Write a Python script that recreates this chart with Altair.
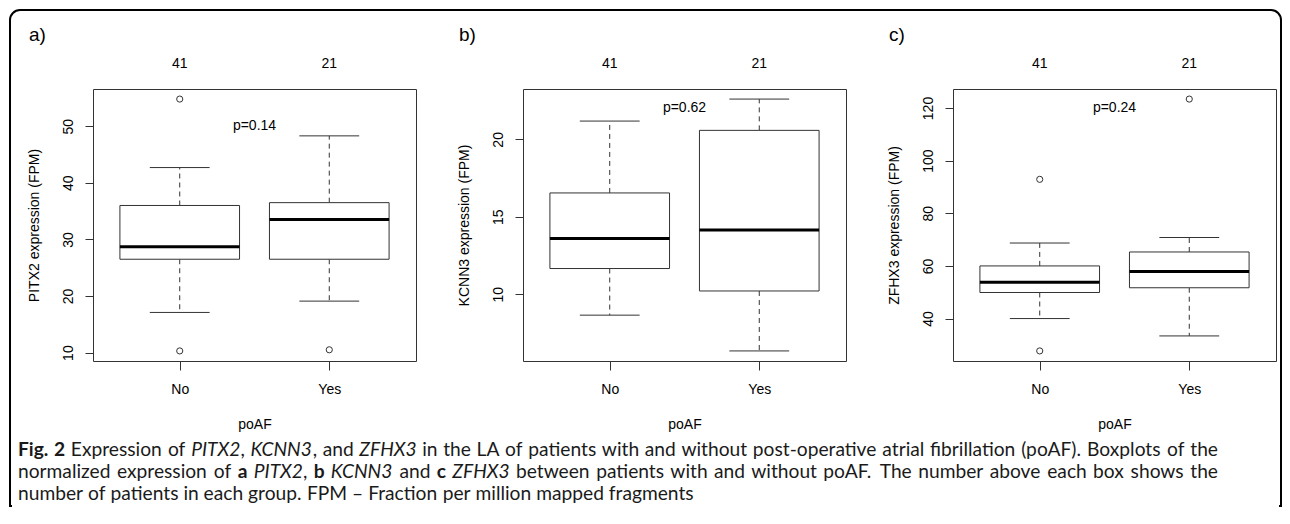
import glob
import os
import struct

import altair as alt
import pandas as pd

# ---------------- data ----------------
groups = ["No", "Yes"]
counts = ["41", "21"]
genes = ["PITX2", "KCNN3", "ZFHX3"]
panel_tags = ["a)", "b)", "c)"]
p_values = ["p=0.14", "p=0.62", "p=0.24"]
p_label_y = [50, 22, 120]
y_ticks = [[10, 20, 30, 40, 50], [10, 15, 20], [40, 60, 80, 100, 120]]

q1 = [[26.5, 26.5], [11.66, 10.21], [49.9, 51.7]]
median = [[28.7, 33.5], [13.6, 14.15], [53.8, 57.9]]
q3 = [[36.0, 36.5], [16.54, 20.58], [60.0, 65.3]]
whisker_low = [[17.1, 19.1], [8.65, 6.34], [40.0, 33.4]]
whisker_high = [[42.7, 48.3], [21.18, 22.6], [68.7, 70.8]]
outliers = [[[10.3, 54.8], [10.5]], [[], []], [[27.7, 92.9], [123.4]]]

caption_lines = [
    [("Fig. 2", "b"), (" Expression of ", "n"), ("PITX2", "i"), (", ", "n"),
     ("KCNN3", "i"), (", and ", "n"), ("ZFHX3", "i"),
     (" in the LA of patients with and without post-operative atrial fibrillation (poAF). Boxplots of the", "n")],
    [("normalized expression of ", "n"), ("a", "b"), (" ", "n"), ("PITX2", "i"), (", ", "n"),
     ("b", "b"), (" ", "n"), ("KCNN3", "i"), (" and ", "n"), ("c", "b"), (" ", "n"),
     ("ZFHX3", "i"),
     (" between patients with and without poAF. The number above each box shows the", "n")],
    [("number of patients in each group. FPM \u2013 Fraction per million mapped fragments", "n")],
]

FONT = "Liberation Sans"
LINE = "#333333"
W, H = 323, 272


# ---------------- font metrics (for caption layout) ----------------
def _read_font(path):
    try:
        with open(path, "rb") as fh:
            data = fh.read()
        num = struct.unpack(">H", data[4:6])[0]
        tabs = {}
        for i in range(num):
            tag, _, off, _ln = struct.unpack(">4sIII", data[12 + 16 * i:28 + 16 * i])
            tabs[tag.decode("latin-1")] = off
        if "fvar" in tabs:
            return None
        upm = struct.unpack(">H", data[tabs["head"] + 18:tabs["head"] + 20])[0]
        nhm = struct.unpack(">H", data[tabs["hhea"] + 34:tabs["hhea"] + 36])[0]
        hm = tabs["hmtx"]
        adv = [struct.unpack(">H", data[hm + 4 * i:hm + 4 * i + 2])[0] for i in range(nhm)]
        cm = tabs["cmap"]
        nsub = struct.unpack(">H", data[cm + 2:cm + 4])[0]
        sub = None
        for i in range(nsub):
            pid, eid, off = struct.unpack(">HHI", data[cm + 4 + 8 * i:cm + 12 + 8 * i])
            fmt = struct.unpack(">H", data[cm + off:cm + off + 2])[0]
            if fmt == 4 and ((pid == 3 and eid == 1) or pid == 0):
                sub = cm + off
                break
        if sub is None:
            return None
        segx2 = struct.unpack(">H", data[sub + 6:sub + 8])[0]
        seg = segx2 // 2
        ends = struct.unpack(">%dH" % seg, data[sub + 14:sub + 14 + segx2])
        starts = struct.unpack(">%dH" % seg, data[sub + 16 + segx2:sub + 16 + 2 * segx2])
        deltas = struct.unpack(">%dh" % seg, data[sub + 16 + 2 * segx2:sub + 16 + 3 * segx2])
        rbase = sub + 16 + 3 * segx2
        rofs = struct.unpack(">%dH" % seg, data[rbase:rbase + segx2])

        def glyph(c):
            for j in range(seg):
                if ends[j] >= c:
                    if starts[j] > c:
                        return 0
                    if rofs[j] == 0:
                        return (c + deltas[j]) & 0xFFFF
                    addr = rbase + 2 * j + rofs[j] + 2 * (c - starts[j])
                    g = struct.unpack(">H", data[addr:addr + 2])[0]
                    return (g + deltas[j]) & 0xFFFF if g else 0
            return 0

        def width(s):
            tot = 0
            for ch in s:
                g = glyph(ord(ch))
                tot += adv[g] if g < nhm else adv[-1]
            return tot / upm

        return width
    except Exception:
        return None


def _find_family():
    dirs = ["/usr/share/fonts", "/usr/local/share/fonts",
            os.path.expanduser("~/.fonts"), os.path.expanduser("~/.local/share/fonts")]
    files = {}
    for d in dirs:
        for ext in ("ttf", "otf", "TTF", "OTF"):
            for f in glob.glob(os.path.join(d, "**", "*." + ext), recursive=True):
                files.setdefault(os.path.splitext(os.path.basename(f))[0].lower(), f)
    candidates = [
        ("Lato", ["lato-regular", "lato-bold", "lato-italic"]),
        ("Open Sans", ["opensans-regular", "opensans-bold", "opensans-italic"]),
        ("Noto Sans", ["notosans-regular", "notosans-bold", "notosans-italic"]),
        ("Liberation Sans", ["liberationsans-regular", "liberationsans-bold", "liberationsans-italic"]),
    ]
    for fam, names in candidates:
        if all(n in files for n in names):
            fns = [_read_font(files[n]) for n in names]
            if all(fns):
                return fam, {"n": fns[0], "b": fns[1], "i": fns[2]}
    return "Open Sans", {"n": lambda s: 0.53 * len(s), "b": lambda s: 0.57 * len(s),
                         "i": lambda s: 0.5 * len(s)}


CAP_FONT, METRICS = _find_family()


def _tokenize(runs):
    words = [[]]
    for text, st in runs:
        for ch in text:
            if ch == " ":
                if words[-1]:
                    words.append([])
            else:
                w = words[-1]
                if w and w[-1][1] == st:
                    w[-1] = (w[-1][0] + ch, st)
                else:
                    w.append((ch, st))
    return [w for w in words if w]


def _word_em(word):
    return sum(METRICS[st](t) for t, st in word)


# caption geometry (pixels relative to the caption view origin)
CAP_LEFT = -75
CAP_RIGHT = 1125
CAP_LAST_WIDTH = 676
CAP_BASELINES = [16, 38, 60]

tok_lines = [_tokenize(r) for r in caption_lines]
space_em = METRICS["n"](" ")
last_em = sum(_word_em(w) for w in tok_lines[-1]) + space_em * (len(tok_lines[-1]) - 1)
CAP_SIZE = CAP_LAST_WIDTH / last_em

cap_rows = []
for li, words in enumerate(tok_lines):
    wids = [_word_em(w) * CAP_SIZE for w in words]
    if li < len(tok_lines) - 1 and len(words) > 1:
        gap = (CAP_RIGHT - CAP_LEFT - sum(wids)) / (len(words) - 1)
    else:
        gap = space_em * CAP_SIZE
    x = CAP_LEFT
    for w, wd in zip(words, wids):
        px = x
        for t, st in w:
            cap_rows.append({"x": px, "y": CAP_BASELINES[li], "t": t, "s": st})
            px += METRICS[st](t) * CAP_SIZE
        x += wd + gap
cap_df = pd.DataFrame(cap_rows)


# ---------------- panels ----------------
def make_panel(k):
    rows = []
    for i, g in enumerate(groups):
        pos = i + 1
        rows.append(dict(group=g, pos=pos, lo=pos - 0.4, hi=pos + 0.4, clo=pos - 0.2, chi=pos + 0.2,
                         q1=q1[k][i], med=median[k][i], q3=q3[k][i],
                         wl=whisker_low[k][i], wh=whisker_high[k][i], n=counts[i]))
    df = pd.DataFrame(rows)
    out_rows = [{"pos": i + 1, "val": v} for i in range(len(groups)) for v in outliers[k][i]]

    vals = [v for i in range(len(groups))
            for v in [whisker_low[k][i], whisker_high[k][i]] + outliers[k][i]]
    vmin, vmax = min(vals), max(vals)
    pad = 0.04 * (vmax - vmin)
    xs = alt.Scale(domain=[0.42, 2.58], nice=False, zero=False)
    ys = alt.Scale(domain=[vmin - pad, vmax + pad], nice=False, zero=False)

    label_expr = "datum.value == 1 ? '%s' : '%s'" % (groups[0], groups[1])
    xaxis = alt.Axis(values=[1, 2], labelExpr=label_expr, grid=False, domain=False,
                     tickSize=9, tickColor=LINE, labelPadding=23, labelBaseline="alphabetic",
                     labelAngle=0, labelFlush=False, labelFont=FONT, labelFontSize=14,
                     labelColor="black", titleFont=FONT, titleFontSize=14,
                     titleFontWeight="normal", titleColor="black", titleX=W / 2, titleY=67,
                     titleBaseline="alphabetic", titleAlign="center")
    yaxis = alt.Axis(values=y_ticks[k], grid=False, domain=False, tickSize=8, tickColor=LINE,
                     labelAngle=270, labelAlign="center", labelBaseline="alphabetic",
                     labelPadding=13, labelFont=FONT, labelFontSize=14, labelColor="black",
                     titleFont=FONT, titleFontSize=14, titleFontWeight="normal",
                     titleColor="black", titleAngle=270, titleAlign="center",
                     titleBaseline="alphabetic", titleX=-55, titleY=H / 2)
    ytitle = "%s expression (FPM)" % genes[k]

    def X(f):
        return alt.X(f, type="quantitative", scale=xs, axis=xaxis, title="poAF")

    def Y(f):
        return alt.Y(f, type="quantitative", scale=ys, axis=yaxis, title=ytitle)

    base = alt.Chart(df)
    layers = [
        base.mark_rule(color=LINE, strokeWidth=1, strokeDash=[5, 4]).encode(
            x=X("pos"), y=Y("q3"), y2=alt.Y2("wh")),
        base.mark_rule(color=LINE, strokeWidth=1, strokeDash=[5, 4]).encode(
            x=X("pos"), y=Y("q1"), y2=alt.Y2("wl")),
        base.mark_rule(color=LINE, strokeWidth=1).encode(
            x=X("clo"), x2=alt.X2("chi"), y=Y("wh")),
        base.mark_rule(color=LINE, strokeWidth=1).encode(
            x=X("clo"), x2=alt.X2("chi"), y=Y("wl")),
        base.mark_rect(fill="white", stroke=LINE, strokeWidth=1).encode(
            x=X("lo"), x2=alt.X2("hi"), y=Y("q1"), y2=alt.Y2("q3")),
        base.mark_rule(color="black", strokeWidth=3).encode(
            x=X("lo"), x2=alt.X2("hi"), y=Y("med")),
    ]
    if out_rows:
        layers.append(
            alt.Chart(pd.DataFrame(out_rows)).mark_point(
                shape="circle", filled=False, size=38, strokeWidth=1, color=LINE, opacity=1
            ).encode(x=X("pos"), y=Y("val")))
    layers.append(
        base.mark_text(font=FONT, fontSize=14, baseline="alphabetic", color="black").encode(
            x=X("pos"), y=alt.value(-21), text="n:N"))
    layers.append(
        alt.Chart(pd.DataFrame([{"x": 1.5, "y": p_label_y[k], "t": p_values[k]}])).mark_text(
            font=FONT, fontSize=14, baseline="middle", color="black").encode(
            x=X("x"), y=Y("y"), text="t:N"))
    layers.append(
        alt.Chart(pd.DataFrame([{"t": panel_tags[k]}])).mark_text(
            font=FONT, fontSize=19, align="left", baseline="alphabetic", color="black").encode(
            x=alt.value(-64), y=alt.value(-48), text="t:N"))
    return alt.layer(*layers).properties(width=W, height=H)


panels = [make_panel(k) for k in range(3)]
top_row = alt.hconcat(*panels, spacing=107, bounds="flush")

# ---------------- caption + frame ----------------
one = pd.DataFrame([{"k": 0}])
FR_L, FR_R, FR_T, FR_B = -83, 1188, -430, 66
frame = alt.Chart(one).mark_rect(
    fillOpacity=0, stroke="black", strokeWidth=2,
    cornerRadiusTopLeft=10, cornerRadiusTopRight=10).encode(
    x=alt.value(FR_L), x2=alt.value(FR_R), y=alt.value(FR_T), y2=alt.value(FR_B))
frame_cut = alt.Chart(one).mark_rule(color="white", strokeWidth=4).encode(
    x=alt.value(FR_L + 2), x2=alt.value(FR_R - 2), y=alt.value(FR_B + 1))

cap_layers = [frame, frame_cut]
style_props = {"n": {}, "b": {"fontWeight": "bold"}, "i": {"fontStyle": "italic"}}
for st, props in style_props.items():
    sub = cap_df[cap_df["s"] == st]
    if len(sub):
        cap_layers.append(
            alt.Chart(sub).mark_text(font=CAP_FONT, fontSize=CAP_SIZE, align="left",
                                     baseline="alphabetic", color="#1a1a1a", **props).encode(
                x=alt.X("x:Q", scale=None, axis=None),
                y=alt.Y("y:Q", scale=None, axis=None),
                text="t:N"))
caption = alt.layer(*cap_layers).properties(
    width=1183, height=64, view=alt.ViewBackground(strokeOpacity=0, strokeWidth=0))

# with flush bounds the nested row counts as zero height, so the
# spacing carries the row's plot height (272) plus the 79px gap
chart = alt.vconcat(top_row, caption, spacing=H + 79, bounds="flush").properties(
    padding={"left": 1, "top": 1, "right": 0, "bottom": 0},
    background="white",
).configure_view(stroke=LINE, strokeWidth=1)

chart.save("out.html", embed_options={"renderer": "svg", "actions": False})
